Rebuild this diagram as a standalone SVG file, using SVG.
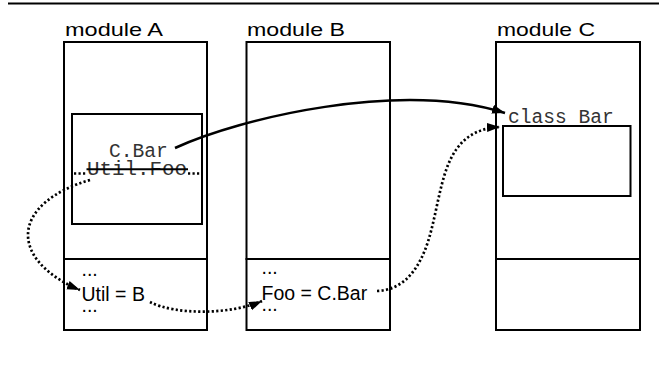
<svg xmlns="http://www.w3.org/2000/svg" width="659" height="367" viewBox="0 0 659 367">
<style>
.box{fill:#fff;stroke:#000;stroke-width:2}
.lbl{font-family:"Liberation Sans",Arial,sans-serif;font-size:19px;fill:#000}
.body{font-family:"Liberation Sans",Arial,sans-serif;font-size:19.5px;fill:#000}
.mono{font-family:"Liberation Mono","Courier New",monospace;font-size:19.6px;fill:#333}
.solid{fill:none;stroke:#000;stroke-width:2.5}
.dot{fill:none;stroke:#000;stroke-width:2.7;stroke-dasharray:2.2 2.3}
</style>
<defs>
<marker id="ah" markerUnits="userSpaceOnUse" markerWidth="14" markerHeight="10" refX="13" refY="4.5" orient="auto">
<path d="M0,0 L13,4.5 L0,9 z" fill="#000"/>
</marker>
</defs>
<rect width="659" height="367" fill="#fff"/>
<line x1="8" y1="3.5" x2="659" y2="3.5" stroke="#000" stroke-width="2.2"/>
<g id="moduleA">
<text class="lbl" x="65" y="35.5" textLength="98" lengthAdjust="spacingAndGlyphs">module A</text>
<rect class="box" x="64" y="42" width="143" height="217"/>
<rect class="box" x="64" y="259" width="143" height="71"/>
<rect class="box" x="72" y="114" width="130" height="110"/>
<text class="mono"><tspan x="109" y="156.5">C.Bar</tspan><tspan x="87" y="175" textLength="100" lengthAdjust="spacingAndGlyphs">Util.Foo</tspan></text>
<line x1="86.5" y1="169.3" x2="188" y2="169.3" stroke="#000" stroke-width="2"/>
<line class="dot" x1="74" y1="173.5" x2="87" y2="173.5"/>
<line class="dot" x1="188" y1="173.5" x2="202" y2="173.5"/>
<text class="body"><tspan x="81.5" y="276">...</tspan><tspan x="81.5" y="301">Util = B</tspan><tspan x="81.5" y="312">...</tspan></text>
</g>
<g id="moduleB">
<text class="lbl" x="247" y="35.5" textLength="98" lengthAdjust="spacingAndGlyphs">module B</text>
<rect class="box" x="246.5" y="42" width="143.5" height="217"/>
<rect class="box" x="246.5" y="259" width="143.5" height="71"/>
<text class="body"><tspan x="261.5" y="274">...</tspan><tspan x="261.5" y="300">Foo = C.Bar</tspan><tspan x="261.5" y="311">...</tspan></text>
</g>
<g id="moduleC">
<text class="lbl" x="497" y="35.5" textLength="98" lengthAdjust="spacingAndGlyphs">module C</text>
<rect class="box" x="496" y="42" width="144" height="217"/>
<rect class="box" x="496" y="259" width="144" height="71"/>
<text class="mono" x="508" y="122.5">class Bar</text>
<rect class="box" x="503" y="126" width="127.5" height="70"/>
</g>
<g id="connectors">
<path class="solid" d="M175,148 C240,118 400,80 505,113" marker-end="url(#ah)"/>
<path class="dot" d="M90,180 C55,190 28,210 28,235 C28,260 55,280 80,290" marker-end="url(#ah)"/>
<path class="dot" d="M150,302 C175,315 230,315 262,301" marker-end="url(#ah)"/>
<path class="dot" d="M377,291 C400,290 415,275 425,250 C435,225 438,190 448,165 C458,140 475,128 500,127" marker-end="url(#ah)"/>
</g>
</svg>
